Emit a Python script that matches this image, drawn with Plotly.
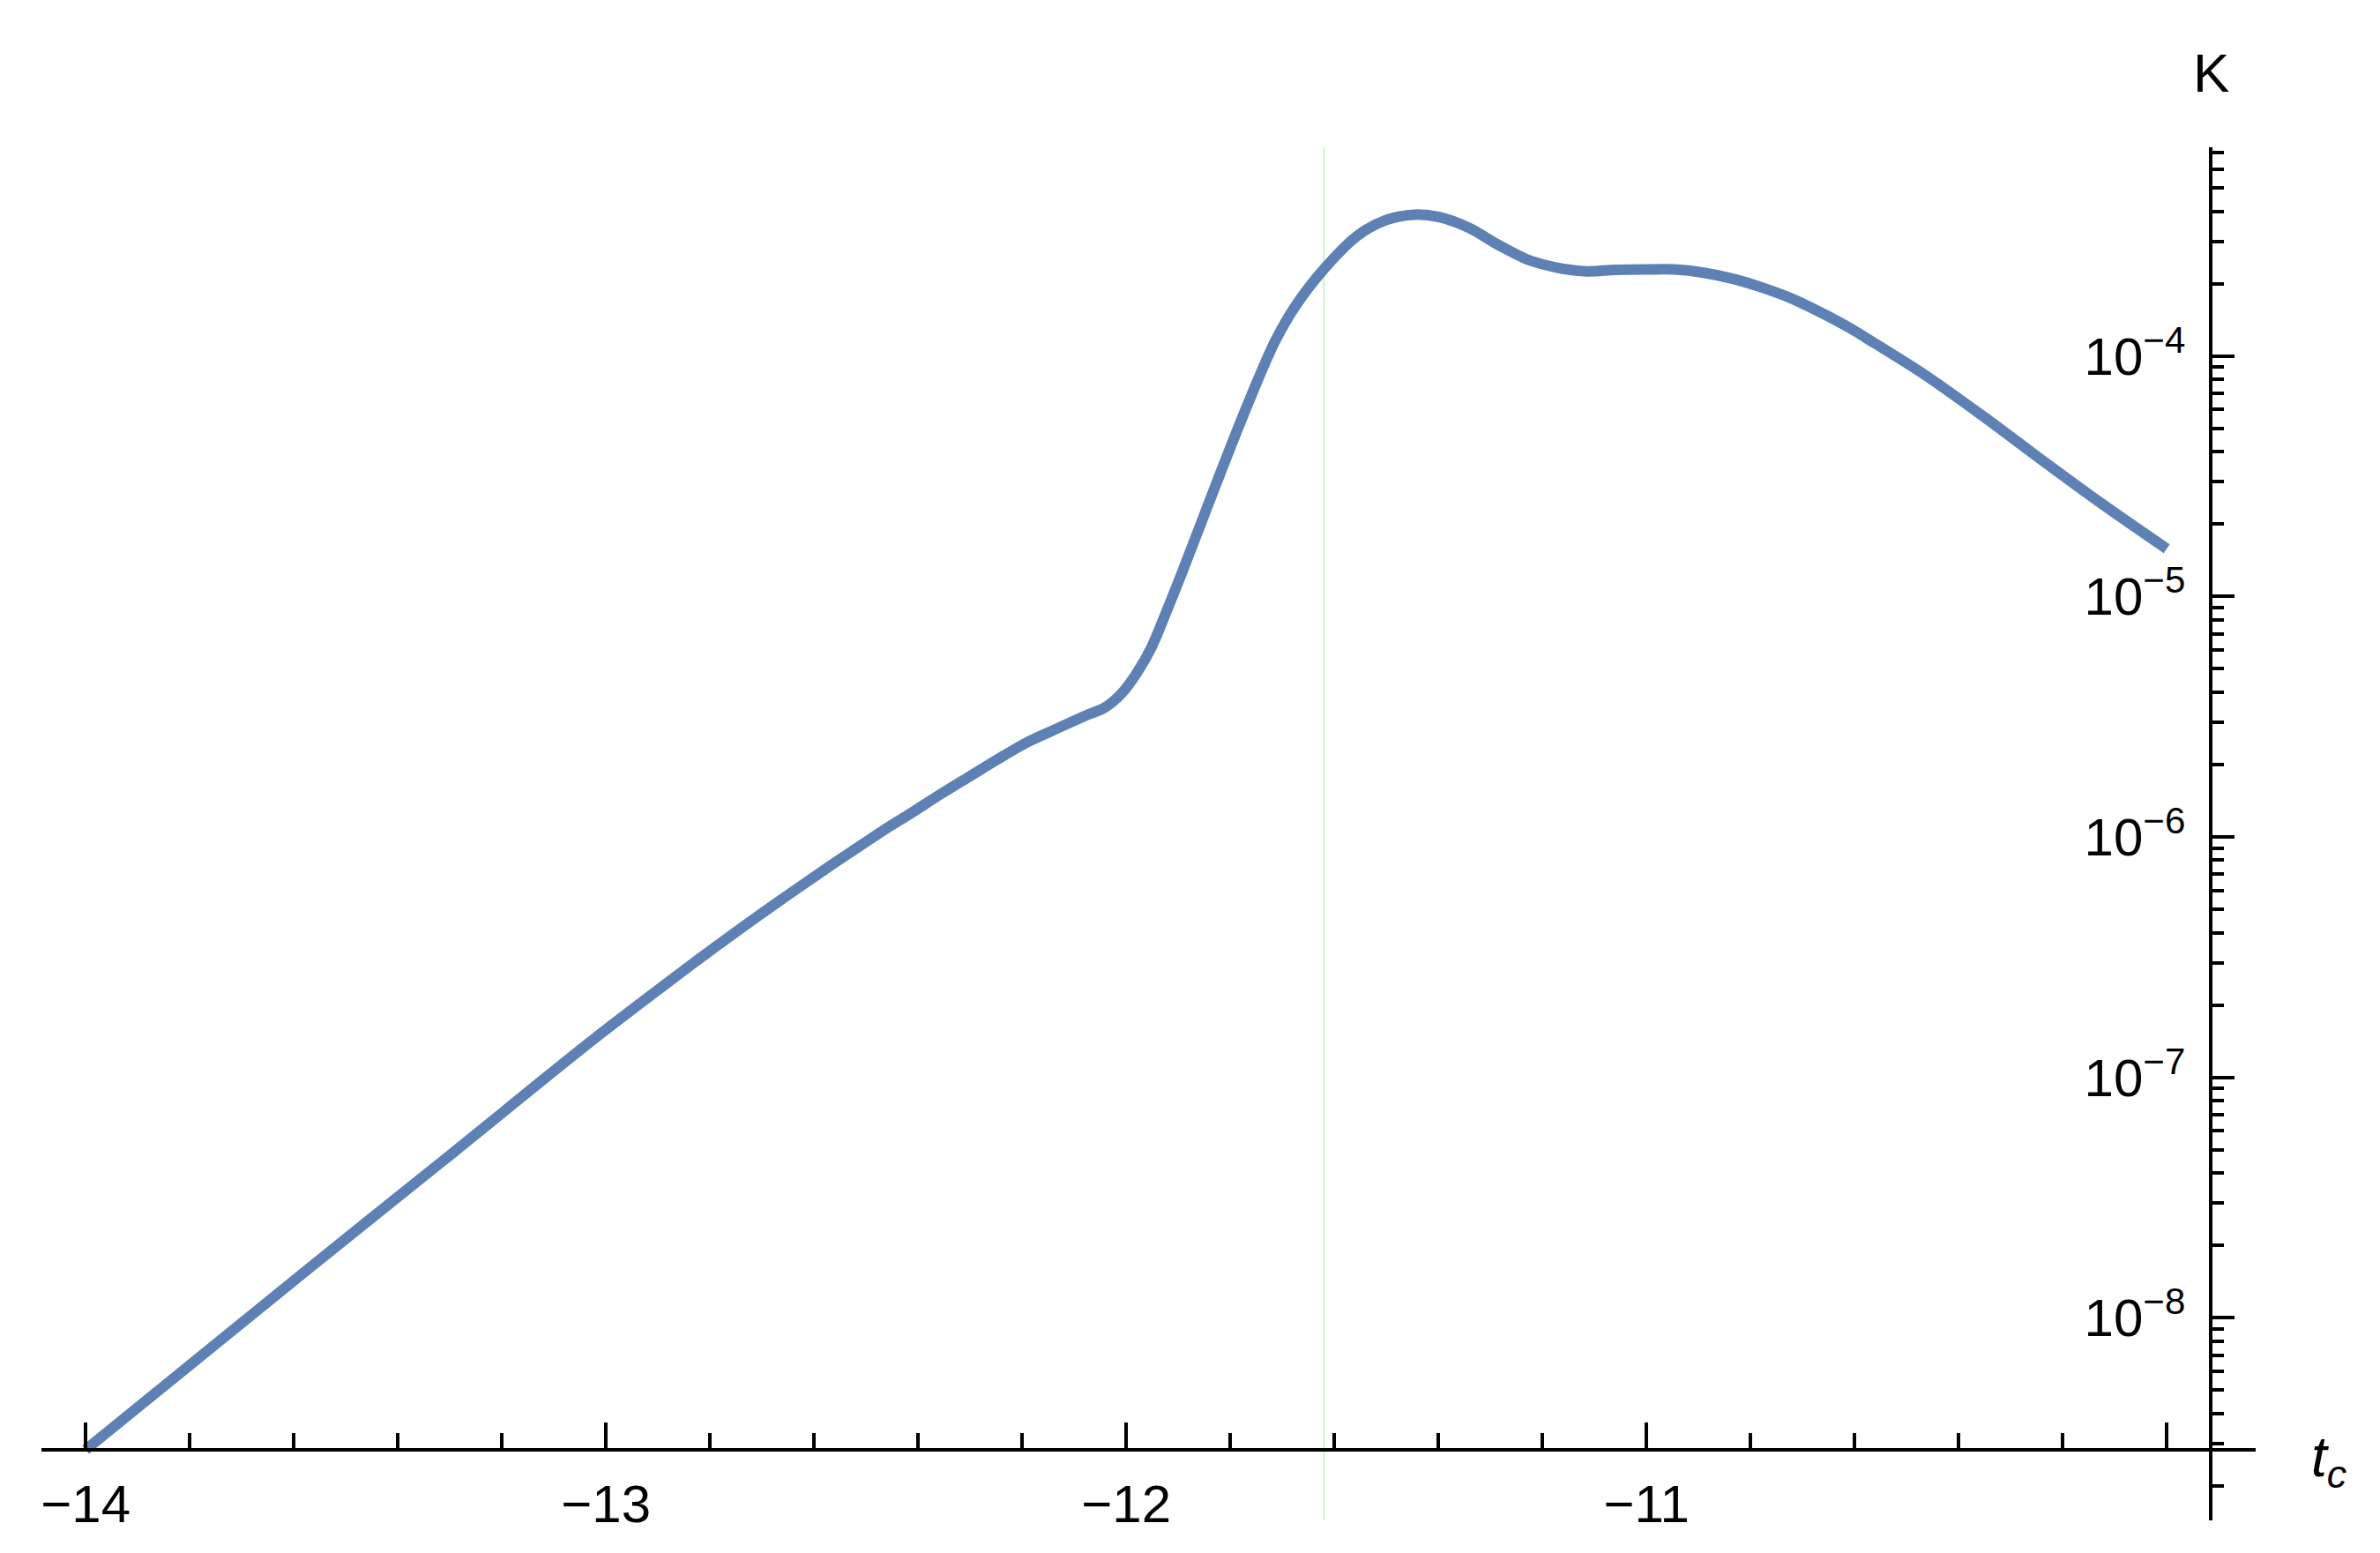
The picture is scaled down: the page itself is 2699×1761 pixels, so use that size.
import plotly.graph_objects as go

# ---- data ----
tc = [-14.0, -13.583, -13.292, -13.0, -12.708, -12.471, -12.415, -12.358, -12.302,
      -12.246, -12.188, -12.132, -12.076, -12.042, -12.008, -11.980, -11.951, -11.924,
      -11.895, -11.864, -11.844, -11.798, -11.759, -11.714, -11.675, -11.619, -11.556,
      -11.500, -11.446, -11.398, -11.341, -11.285, -11.229, -11.171, -11.115, -11.059,
      -11.002, -10.946, -10.890, -10.832, -10.776, -10.720, -10.663, -10.607, -10.578,
      -10.466, -10.353, -10.239, -10.127, -10.0]
K = [2.83e-9, 1.53e-8, 4.90e-8, 1.58e-7, 4.68e-7, 1.05e-6, 1.25e-6, 1.50e-6, 1.78e-6,
     2.11e-6, 2.49e-6, 2.83e-6, 3.21e-6, 3.44e-6, 3.97e-6, 4.79e-6, 6.17e-6, 8.51e-6,
     1.22e-5, 1.82e-5, 2.36e-5, 4.26e-5, 6.89e-5, 1.15e-4, 1.61e-4, 2.31e-4, 3.16e-4,
     3.68e-4, 3.87e-4, 3.78e-4, 3.41e-4, 2.90e-4, 2.52e-4, 2.33e-4, 2.25e-4, 2.28e-4,
     2.29e-4, 2.29e-4, 2.22e-4, 2.09e-4, 1.92e-4, 1.73e-4, 1.51e-4, 1.30e-4, 1.19e-4,
     8.38e-5, 5.62e-5, 3.68e-5, 2.45e-5, 1.58e-5]

x_tickvals = [-14, -13, -12, -11, -10]
x_ticktext = ["\u221214", "\u221213", "\u221212", "\u221211", ""]
y_tickvals = [1e-8, 1e-7, 1e-6, 1e-5, 1e-4]
y_ticktext = ["10<sup>\u22128</sup>", "10<sup>\u22127</sup>", "10<sup>\u22126</sup>",
              "10<sup>\u22125</sup>", "10<sup>\u22124</sup>"]
y_minor_vals = [m * 10.0 ** e for e in range(-9, -3) for m in range(2, 10)]

marker_t = -11.62          # faint vertical line
x_range = [-14.085, -9.829]
y_range_log = [-8.842, -3.132]
yaxis_at_t = -9.915        # where the K axis crosses
xaxis_at_log = -8.548      # where the t_c axis crosses (log10 K)

FONT = "Liberation Sans, Arial, sans-serif"
BLUE = "#5E81B5"

fig = go.Figure()
fig.add_trace(go.Scatter(x=tc, y=K, mode="lines",
                         line=dict(color=BLUE, width=12, shape="spline", smoothing=0.9),
                         showlegend=False, hoverinfo="skip"))

fig.add_shape(type="line", xref="x", yref="paper", x0=marker_t, x1=marker_t, y0=0, y1=1,
              line=dict(color="#c0f2c0", width=1.5), layer="below")

xpos = (xaxis_at_log - y_range_log[0]) / (y_range_log[1] - y_range_log[0])
ypos = (yaxis_at_t - x_range[0]) / (x_range[1] - x_range[0])

fig.update_layout(
    width=2699, height=1761,
    margin=dict(l=39, r=149, t=159, b=45),
    paper_bgcolor="white", plot_bgcolor="white",
    font=dict(family=FONT, size=60, color="black"),
    xaxis=dict(range=x_range, anchor="free", position=xpos, side="bottom",
               showline=True, linecolor="black", linewidth=4,
               showgrid=False, zeroline=False,
               tickmode="array", tickvals=x_tickvals, ticktext=x_ticktext,
               ticks="inside", ticklen=29, tickwidth=4, tickcolor="black",
               ticklabelstandoff=8,
               tickfont=dict(family=FONT, size=60, color="black"),
               minor=dict(ticks="inside", ticklen=17, tickwidth=4, tickcolor="black",
                          tick0=-14, dtick=0.2)),
    yaxis=dict(type="log", range=y_range_log, anchor="free", position=ypos, side="left",
               showline=True, linecolor="black", linewidth=4,
               showgrid=False, zeroline=False,
               tickmode="array", tickvals=y_tickvals, ticktext=y_ticktext,
               ticks="inside", ticklen=25, tickwidth=4, tickcolor="black",
               ticklabelstandoff=15,
               tickfont=dict(family=FONT, size=60, color="black"),
               minor=dict(ticks="inside", ticklen=13, tickwidth=4, tickcolor="black",
                          tickmode="array", tickvals=y_minor_vals)),
)

fig.add_annotation(text="K", xref="paper", yref="paper", x=ypos, y=1.054,
                   showarrow=False, font=dict(family=FONT, size=62, color="black"),
                   xanchor="center", yanchor="middle")
fig.add_annotation(text="<i>t</i><sub><i>c</i></sub>", xref="paper", yref="paper",
                   x=1.033, y=xpos - 0.008, showarrow=False,
                   font=dict(family=FONT, size=64, color="black"),
                   xanchor="center", yanchor="middle")

fig.write_html("out.html")
